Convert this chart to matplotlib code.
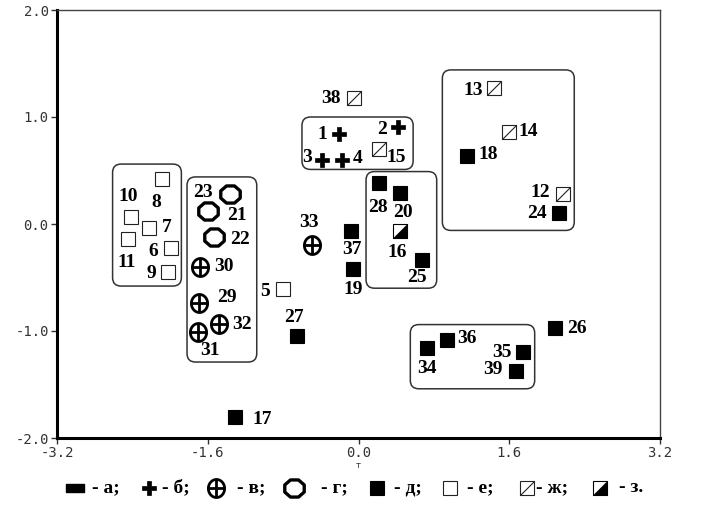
import numpy as np
import matplotlib
matplotlib.use("Agg")
import matplotlib.pyplot as plt
from matplotlib.path import Path
from matplotlib.patches import FancyBboxPatch

# point numbers, coordinates and class (legend letter)
ids = [1, 2, 3, 4, 5, 6, 7, 8, 9, 10, 11, 12, 13, 14, 15, 16, 17, 18, 19, 20,
       21, 22, 23, 24, 25, 26, 27, 28, 29, 30, 31, 32, 33, 34, 35, 36, 37, 38, 39]
xs = [-0.21, 0.42, -0.39, -0.18, -0.80, -1.99, -2.22, -2.09, -2.02, -2.41,
      -2.45, 2.17, 1.44, 1.60, 0.22, 0.44, -1.31, 1.15, -0.06, 0.44,
      -1.60, -1.53, -1.36, 2.13, 0.67, 2.09, -0.65, 0.22, -1.69, -1.68,
      -1.70, -1.48, -0.49, 0.73, 1.75, 0.94, -0.08, -0.05, 1.67]
ys = [0.84, 0.91, 0.60, 0.60, -0.61, -0.22, -0.04, 0.42, -0.45, 0.07,
      -0.14, 0.28, 1.27, 0.86, 0.70, -0.07, -1.80, 0.64, -0.42, 0.29,
      0.12, -0.12, 0.28, 0.10, -0.34, -0.97, -1.05, 0.38, -0.74, -0.40,
      -1.01, -0.93, -0.20, -1.16, -1.20, -1.08, -0.07, 1.18, -1.37]
kinds = ['б', 'б', 'б', 'б', 'е', 'е', 'е', 'е', 'е', 'е',
         'е', 'ж', 'ж', 'ж', 'ж', 'з', 'д', 'д', 'д', 'д',
         'г', 'г', 'г', 'д', 'д', 'д', 'д', 'д', 'в', 'в',
         'в', 'в', 'в', 'д', 'д', 'д', 'д', 'ж', 'д']

legend_letters = ['а', 'б', 'в', 'г', 'д', 'е', 'ж', 'з']
legend_ends = [';', ';', ';', ';', ';', ';', ';', '.']

# groups outlined with rounded boxes (x0, y0, x1, y1)
groups = [(-2.61, -0.58, -1.88, 0.56), (-1.82, -1.29, -1.08, 0.44),
          (-0.60, 0.51, 0.58, 1.00), (0.08, -0.60, 0.83, 0.49),
          (0.89, -0.06, 2.29, 1.44), (0.55, -1.54, 1.87, -0.94)]

# label offsets in pixels (dx, dy)
offs = {1: (-16, 0), 2: (-16, -3), 3: (-15, 2), 4: (16, 1), 5: (-18, -2),
        6: (-18, -4), 7: (17, 1), 8: (-5, -23), 9: (-17, -1), 10: (-3, 20),
        11: (-1, -24), 12: (-23, 2), 13: (-21, -2), 14: (19, 0), 15: (17, -8),
        16: (-3, -21), 17: (27, -3), 18: (21, 1), 19: (0, -21), 20: (3, -20),
        21: (29, -4), 22: (26, -3), 23: (-27, 2), 24: (-22, 0), 25: (-5, -17),
        26: (22, -1), 27: (-3, 19), 28: (-1, -24), 29: (28, 6), 30: (24, 0),
        31: (12, -18), 32: (23, -1), 33: (-3, 23), 34: (0, -20), 35: (-21, 0),
        36: (20, 1), 37: (1, -18), 38: (-23, -1), 39: (-23, 1)}


def closed_path(pts):
    pts = np.vstack([pts, pts[:1]])
    codes = [Path.MOVETO] + [Path.LINETO] * (len(pts) - 2) + [Path.CLOSEPOLY]
    return Path(pts, codes)


# custom marker paths
diag = Path([(-1, -1), (1, 1)], [Path.MOVETO, Path.LINETO])
tri = closed_path(np.array([(-1, -1), (1, -1), (1, 1)]))
t = np.linspace(0, 2 * np.pi, 48, endpoint=False)
ell = closed_path(np.column_stack([0.9 * np.cos(t), np.sin(t)]))
cross = Path([(-0.9, 0), (0.9, 0), (0, -1), (0, 1)],
             [Path.MOVETO, Path.LINETO, Path.MOVETO, Path.LINETO])
a8 = np.deg2rad(22.5 + 45 * np.arange(8))
octo = closed_path(np.column_stack([np.cos(a8), 0.88 * np.sin(a8)]))
bar = closed_path(np.array([(-1, -0.42), (1, -0.42), (1, 0.42), (-1, 0.42)]))


def draw(ax, x, y, kind):
    kw = dict(linestyle='none', zorder=4)
    if kind == 'а':
        ax.plot(x, y, marker=bar, ms=12.5, mfc='black', mec='black', **kw)
    elif kind == 'б':
        ax.plot(x, y, marker='P', ms=10.5, mfc='black', mec='black', mew=0.5, **kw)
    elif kind == 'в':
        ax.plot(x, y, marker=ell, ms=13, mfc='white', mec='black', mew=2, **kw)
        ax.plot(x, y, marker=cross, ms=13, mec='black', mew=2, **kw)
    elif kind == 'г':
        ax.plot(x, y, marker=octo, ms=14, mfc='white', mec='black', mew=2.4, **kw)
    elif kind == 'д':
        ax.plot(x, y, marker='s', ms=10.5, mfc='black', mec='black', mew=0.8, **kw)
    elif kind == 'е':
        ax.plot(x, y, marker='s', ms=10.5, mfc='white', mec='#222222', mew=0.8, **kw)
    elif kind == 'ж':
        ax.plot(x, y, marker='s', ms=10.5, mfc='white', mec='#222222', mew=0.8, **kw)
        ax.plot(x, y, marker=diag, ms=10.5, mec='#222222', mew=0.8, **kw)
    elif kind == 'з':
        ax.plot(x, y, marker='s', ms=10.5, mfc='white', mec='black', mew=0.8, **kw)
        ax.plot(x, y, marker=tri, ms=10.5, mfc='black', mec='black', mew=0.5, **kw)


fig = plt.figure(figsize=(7.05, 5.17), dpi=100)
W, H = 705, 517
ax = fig.add_axes([57 / W, 1 - 438 / H, 603 / W, 428 / H])

for i, x, y, k in zip(ids, xs, ys, kinds):
    draw(ax, [x], [y], k)
    dx, dy = offs[i]
    ax.annotate(str(i), (x, y), xytext=(dx, dy), textcoords='offset pixels',
                ha='center', va='center', fontsize=14, fontweight='bold',
                family='Liberation Serif', zorder=5)

for x0, y0, x1, y1 in groups:
    ax.add_patch(FancyBboxPatch((x0, y0), x1 - x0, y1 - y0,
                                boxstyle='round,pad=0,rounding_size=0.09',
                                mutation_aspect=0.88, fill=False,
                                ec='#333333', lw=1.1, zorder=3))

ax.set_xlim(-3.2, 3.2)
ax.set_ylim(-2.0, 2.0)
xt = [-3.2, -1.6, 0.0, 1.6, 3.2]
yt = [-2.0, -1.0, 0.0, 1.0, 2.0]
ax.set_xticks(xt)
ax.set_xticklabels(['%.1f' % v for v in xt])
ax.set_yticks(yt)
ax.set_yticklabels(['%.1f' % v for v in yt])
for lab in ax.get_xticklabels() + ax.get_yticklabels():
    lab.set_family('DejaVu Sans Mono')
    lab.set_fontsize(10)
    lab.set_color('#333333')
ax.tick_params(direction='out', length=4, width=1, color='#333333', pad=2)
ax.spines['left'].set_linewidth(2.2)
ax.spines['bottom'].set_linewidth(2.2)
for s in ['top', 'right']:
    ax.spines[s].set_linewidth(1)
    ax.spines[s].set_color('#444444')

fig.text(358 / W, 1 - 465 / H, 'т', fontsize=6, ha='center', va='center',
         color='#333333')

# legend row along the bottom
lax = fig.add_axes([0, 0, 1, 1])
lax.set_xlim(0, W)
lax.set_ylim(H, 0)
lax.axis('off')
mark_x = [75, 149, 216, 294, 377, 450, 527, 600]
text_x = [92, 162, 237, 321, 394, 467, 536, 619]
for lt, end, mx, tx in zip(legend_letters, legend_ends, mark_x, text_x):
    draw(lax, [mx], [488], lt)
    lax.text(tx, 488, '- ' + lt + end, fontsize=14, fontweight='bold',
             family='Liberation Serif', ha='left', va='center')

fig.savefig('out.png', dpi=100)
